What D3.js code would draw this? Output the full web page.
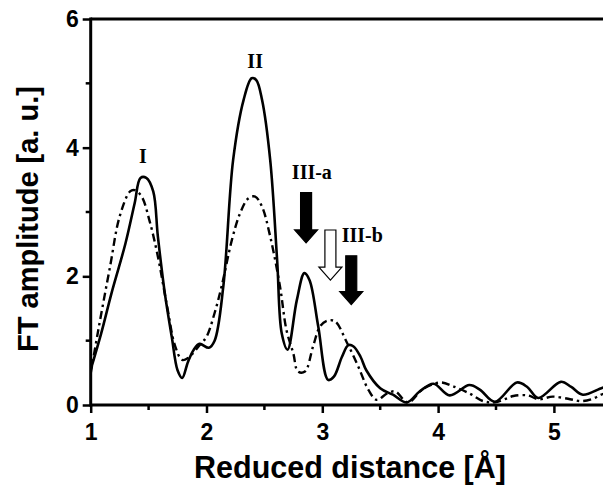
<!DOCTYPE html>
<html>
<head>
<meta charset="utf-8">
<script src="https://cdn.jsdelivr.net/npm/d3@7/dist/d3.min.js"></script>
<style>
  html, body { margin: 0; padding: 0; background: #fff; }
  svg { display: block; }
</style>
</head>
<body>
<script>
// Reduced distance (Å) and FT amplitude for the solid curve
const solidR = [1.00, 1.09, 1.18, 1.30, 1.38, 1.43, 1.48, 1.54, 1.58, 1.64, 1.70, 1.75, 1.79, 1.84, 1.89, 1.94, 2.02, 2.07, 2.145, 2.23, 2.32, 2.39, 2.43, 2.48, 2.55, 2.61, 2.65, 2.70, 2.78, 2.845, 2.89, 2.965, 3.05, 3.10, 3.17, 3.225, 3.27, 3.33, 3.38, 3.50, 3.61, 3.73, 3.84, 3.96, 4.10, 4.27, 4.36, 4.49, 4.68, 4.77, 4.865, 5.06, 5.15, 5.25, 5.42, 5.5];
const solidAmp = [0.55, 1.11, 1.74, 2.51, 3.14, 3.53, 3.53, 3.32, 2.62, 1.74, 1.06, 0.54, 0.42, 0.67, 0.86, 0.95, 0.89, 1.00, 1.84, 3.81, 4.74, 5.08, 5.05, 4.74, 3.81, 2.25, 1.11, 0.86, 1.63, 2.05, 1.94, 1.22, 0.39, 0.44, 0.75, 0.93, 0.91, 0.75, 0.54, 0.26, 0.16, 0.04, 0.21, 0.33, 0.15, 0.31, 0.24, 0.05, 0.35, 0.28, 0.11, 0.36, 0.28, 0.16, 0.27, 0.30];

// Dash-dot curve
const dashR = [1.00, 1.066, 1.167, 1.25, 1.34, 1.38, 1.44, 1.51, 1.58, 1.66, 1.73, 1.79, 1.84, 1.94, 2.00, 2.07, 2.13, 2.22, 2.29, 2.36, 2.42, 2.48, 2.55, 2.635, 2.69, 2.75, 2.79, 2.85, 2.92, 2.98, 3.04, 3.11, 3.21, 3.31, 3.40, 3.47, 3.56, 3.63, 3.74, 3.87, 4.02, 4.13, 4.27, 4.39, 4.49, 4.59, 4.65, 4.77, 4.87, 4.99, 5.14, 5.24, 5.34, 5.42, 5.5];
const dashAmp = [0.49, 1.17, 2.15, 2.93, 3.32, 3.34, 3.24, 2.85, 2.31, 1.53, 0.91, 0.70, 0.73, 0.93, 1.06, 1.43, 1.84, 2.57, 2.98, 3.21, 3.24, 3.08, 2.62, 1.84, 1.17, 0.80, 0.52, 0.52, 0.91, 1.22, 1.31, 1.30, 0.98, 0.60, 0.23, 0.08, 0.18, 0.21, 0.04, 0.25, 0.35, 0.29, 0.18, 0.06, 0.04, 0.10, 0.14, 0.15, 0.09, 0.13, 0.09, 0.06, 0.10, 0.17, 0.20];

// Axis ticks
const xTicks = [1, 2, 3, 4, 5];
const xMinorTicks = [1.5, 2.5, 3.5, 4.5, 5.5];
const yTicks = [0, 2, 4, 6];
const yMinorTicks = [1, 3, 5];

// Shell labels: text, r, amplitude at baseline
const peakLabels = ["I", "II", "III-a", "III-b"];
const peakLabelR = [1.45, 2.42, 2.91, 3.345];
const peakLabelAmp = [3.76, 5.24, 3.51, 2.53];

// Down arrows: r, top amplitude, tip amplitude, filled?
const arrowR = [2.86, 3.07, 3.25];
const arrowTop = [3.30, 2.72, 2.32];
const arrowTip = [2.52, 1.94, 1.56];
const arrowFilled = [true, false, true];

const W = 603, H = 488;
const margin = { left: 90.7, top: 19, bottom: 83 };

const x = d3.scaleLinear().domain([1, 5.5]).range([margin.left, margin.left + 4.5 * 115.8]);
const y = d3.scaleLinear().domain([0, 6]).range([H - margin.bottom, margin.top]);

const svg = d3.select("body").append("svg")
  .attr("width", W).attr("height", H);

const sans = "'Liberation Sans', Arial, Helvetica, sans-serif";
const serif = "'Liberation Serif', 'Times New Roman', serif";

// Clip curves to the plotting window
svg.append("defs").append("clipPath").attr("id", "plot")
  .append("rect").attr("x", x(1)).attr("y", y(6)).attr("width", x(5.5) - x(1)).attr("height", y(0) - y(6));

const line = d3.line().x(d => x(d[0])).y(d => y(d[1])).curve(d3.curveCatmullRom.alpha(0.5));

const g = svg.append("g").attr("clip-path", "url(#plot)");
g.append("path")
  .datum(dashR.map((r, i) => [r, dashAmp[i]]))
  .attr("d", line)
  .attr("fill", "none").attr("stroke", "#000").attr("stroke-width", 2.4)
  .attr("stroke-dasharray", "8,4,2.5,4")
  .attr("stroke-linejoin", "round");
g.append("path")
  .datum(solidR.map((r, i) => [r, solidAmp[i]]))
  .attr("d", line)
  .attr("fill", "none").attr("stroke", "#000").attr("stroke-width", 2.6)
  .attr("stroke-linejoin", "round");

// Axes
const xAxis = svg.append("g").attr("transform", `translate(0,${y(0)})`)
  .call(d3.axisBottom(x).tickValues(xTicks).tickFormat(d3.format("d")).tickSize(8).tickPadding(11));
xAxis.append("g").selectAll("line").data(xMinorTicks).join("line")
  .attr("x1", d => x(d)).attr("x2", d => x(d)).attr("y1", 0).attr("y2", 5)
  .attr("stroke", "#000").attr("stroke-width", 2.5);

const yAxis = svg.append("g").attr("transform", `translate(${x(1)},0)`)
  .call(d3.axisLeft(y).tickValues(yTicks).tickFormat(d3.format("d")).tickSize(8).tickPadding(4));
yAxis.append("g").selectAll("line").data(yMinorTicks).join("line")
  .attr("y1", d => y(d)).attr("y2", d => y(d)).attr("x1", 0).attr("x2", -5)
  .attr("stroke", "#000").attr("stroke-width", 2.5);

[xAxis, yAxis].forEach(a => {
  a.select(".domain").remove();
  a.selectAll(".tick line").attr("stroke-width", 2.5);
  a.selectAll(".tick text").attr("font-family", sans).attr("font-weight", "bold")
    .attr("font-size", 23).attr("fill", "#000");
});

// Frame lines: left, bottom, top
svg.append("line").attr("x1", x(1)).attr("x2", x(1)).attr("y1", y(6) - 1.5).attr("y2", y(0) + 1.5)
  .attr("stroke", "#000").attr("stroke-width", 3);
svg.append("line").attr("x1", x(1)).attr("x2", W).attr("y1", y(0)).attr("y2", y(0))
  .attr("stroke", "#000").attr("stroke-width", 3);
svg.append("line").attr("x1", x(1)).attr("x2", W).attr("y1", y(6)).attr("y2", y(6))
  .attr("stroke", "#000").attr("stroke-width", 3);

// Axis titles
svg.append("text")
  .attr("x", 350).attr("y", 478)
  .attr("text-anchor", "middle")
  .attr("font-family", sans).attr("font-weight", "bold").attr("font-size", 30.5)
  .text("Reduced distance [Å]");
svg.append("text")
  .attr("transform", `translate(38,219) rotate(-90)`)
  .attr("text-anchor", "middle")
  .attr("font-family", sans).attr("font-weight", "bold").attr("font-size", 29)
  .text("FT amplitude [a. u.]");

// Shell labels
peakLabels.forEach((t, i) => {
  svg.append("text")
    .attr("x", x(peakLabelR[i])).attr("y", y(peakLabelAmp[i]))
    .attr("text-anchor", "middle")
    .attr("font-family", serif).attr("font-weight", "bold").attr("font-size", 20)
    .text(t);
});

// Arrows pointing down at the shell features
arrowR.forEach((r, i) => {
  const cx = x(r), top = y(arrowTop[i]), tip = y(arrowTip[i]);
  const shaftHalf = 5.5, headHalf = 11.5, headH = 13;
  const neck = tip - headH;
  const pts = [
    [cx - shaftHalf, top], [cx + shaftHalf, top], [cx + shaftHalf, neck],
    [cx + headHalf, neck], [cx, tip], [cx - headHalf, neck], [cx - shaftHalf, neck]
  ];
  svg.append("path")
    .attr("d", "M" + pts.map(p => p.join(",")).join("L") + "Z")
    .attr("fill", arrowFilled[i] ? "#000" : "#fff")
    .attr("stroke", "#000").attr("stroke-width", 1.2)
    .attr("stroke-linejoin", "miter");
});
</script>
</body>
</html>
